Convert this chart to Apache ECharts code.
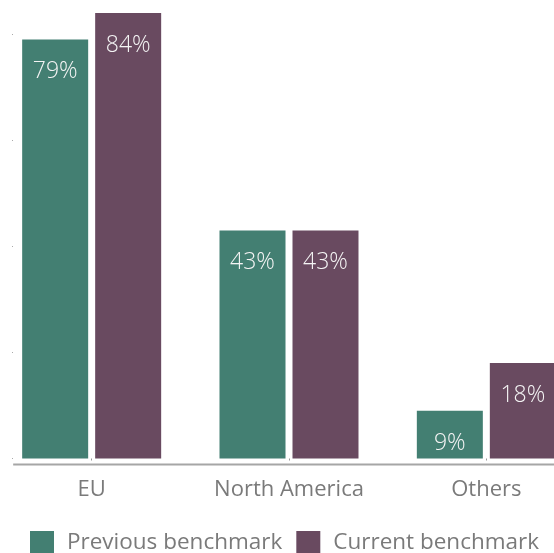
<!DOCTYPE html>
<html>
<head>
<meta charset="utf-8">
<style>
  html, body { margin: 0; padding: 0; background: #fff; }
  #chart { width: 554px; height: 553px; }
</style>
<script src="https://cdn.jsdelivr.net/npm/echarts@6/dist/echarts.min.js"></script>
</head>
<body>
<div id="chart"></div>
<script>
// Share of respondents by region, two benchmark rounds (%)
const regions = ['EU', 'North America', 'Others'];
const previousBenchmark = [79, 43, 9];
const currentBenchmark = [84, 43, 18];
const seriesNames = ['Previous benchmark', 'Current benchmark'];
const yTicks = [0, 20, 40, 60, 80, 100];

const GREEN = '#437f72';
const PURPLE = '#694a60';
const AXIS_GREY = '#a6a6a6';
const TEXT_GREY = '#7a7a7a';

const chart = echarts.init(document.getElementById('chart'), null, { renderer: 'canvas' });

const barLabel = {
  show: true,
  position: 'insideTop',
  distance: 21,
  color: '#f4f4f4',
  fontFamily: 'Open Sans',
  fontWeight: 300,
  fontSize: 23,
  formatter: p => p.value + '%'
};

chart.setOption({
  animation: false,
  backgroundColor: '#ffffff',
  // The plot area deliberately runs past the canvas on the left, top and right
  grid: { left: -7, top: -72, width: 592, height: 530.5, outerBoundsMode: 'none', containLabel: false },
  legend: {
    data: seriesNames,
    left: 30,
    top: 531,
    padding: 0,
    icon: 'rect',
    itemWidth: 24,
    itemHeight: 24,
    itemGap: 14,
    textStyle: {
      color: TEXT_GREY,
      fontFamily: 'Open Sans',
      fontSize: 22.5,
      lineHeight: 24,
      padding: [0, 0, 0, 8]
    }
  },
  xAxis: {
    type: 'category',
    data: regions,
    offset: 6,
    axisLine: { show: false },
    axisTick: { show: true, alignWithLabel: true, length: 2, lineStyle: { color: '#999', width: 1 } },
    axisLabel: { color: TEXT_GREY, fontFamily: 'Open Sans', fontSize: 22, margin: 14 },
    splitLine: { show: false }
  },
  yAxis: {
    type: 'value',
    min: yTicks[0],
    max: yTicks[yTicks.length - 1],
    interval: yTicks[1] - yTicks[0],
    offset: -20,
    axisLine: { show: false },
    axisTick: { show: true, length: 1, lineStyle: { color: '#aaa', width: 1 } },
    axisLabel: { show: false },
    splitLine: { show: false }
  },
  series: [
    {
      name: seriesNames[0],
      type: 'bar',
      data: previousBenchmark,
      barWidth: 66,
      barGap: '10.6%',
      itemStyle: { color: GREEN },
      label: barLabel
    },
    {
      name: seriesNames[1],
      type: 'bar',
      data: currentBenchmark,
      barWidth: 66,
      barGap: '10.6%',
      itemStyle: { color: PURPLE },
      label: barLabel
    }
  ]
});

// Baseline rule: starts at the value axis and runs to the right edge, 6px under the zero line
const zeroY = chart.convertToPixel({ yAxisIndex: 0 }, 0) + 6;
const axisX = chart.convertToPixel({ xAxisIndex: 0 }, 0) - 78.5;
chart.setOption({
  graphic: [{
    type: 'line',
    silent: true,
    z: 5,
    shape: { x1: axisX, y1: zeroY, x2: 554, y2: zeroY },
    style: { stroke: AXIS_GREY, lineWidth: 2 }
  }]
});
</script>
</body>
</html>
